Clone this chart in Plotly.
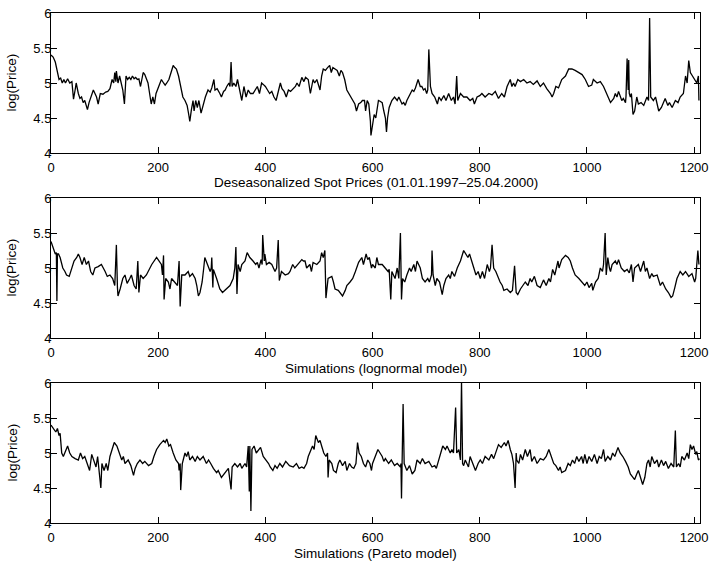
import plotly.graph_objects as go

# ---------------- data ----------------
x_tick_values = [0, 200, 400, 600, 800, 1000, 1200]
y_tick_values = [4, 4.5, 5, 5.5, 6]
y_tick_labels = ["4", "4.5", "5", "5.5", "6"]

panel_titles = [
    "Deseasonalized Spot Prices (01.01.1997\u201325.04.2000)",
    "Simulations (lognormal model)",
    "Simulations (Pareto model)",
]
y_title = "log(Price)"

spot_points = [
    (0, 5.40), (4, 5.37), (8, 5.30), (12, 5.15), (15, 5.05), (18, 5.07), (21, 5.00), (24, 5.05),
    (27, 5.00), (31, 5.06), (35, 5.00), (39, 5.02), (42, 4.77), (45, 4.90), (47, 5.00), (51, 4.85),
    (54, 4.78), (57, 4.80), (60, 4.72), (63, 4.75), (66, 4.68), (68, 4.62), (71, 4.72), (75, 4.80),
    (79, 4.90), (82, 4.85), (85, 4.80), (88, 4.70), (92, 4.85), (97, 4.84), (102, 4.87), (106, 4.88),
    (110, 4.92), (114, 5.05), (117, 5.00), (119, 5.15), (121, 5.02), (122, 5.17), (125, 5.00),
    (128, 5.10), (131, 4.98), (134, 4.90), (137, 4.70), (140, 5.10), (143, 5.05), (146, 5.08),
    (149, 5.05), (152, 5.10), (155, 5.06), (158, 5.08), (161, 5.05), (164, 5.06), (167, 4.95),
    (170, 5.10), (172, 5.15), (175, 5.12), (178, 5.05), (181, 5.00), (184, 4.85), (187, 4.70),
    (190, 4.80), (193, 4.70), (196, 4.85), (199, 4.92), (203, 5.00), (206, 5.05), (210, 5.00),
    (213, 4.97), (216, 5.00), (220, 5.05), (224, 5.15), (228, 5.25), (231, 5.22), (234, 5.20),
    (238, 5.10), (242, 4.92), (246, 4.80), (250, 4.75), (254, 4.68), (257, 4.55), (259, 4.45),
    (262, 4.62), (265, 4.75), (267, 4.60), (270, 4.75), (273, 4.65), (276, 4.75), (280, 4.57),
    (284, 4.70), (288, 4.80), (293, 4.90), (297, 4.87), (300, 4.93), (304, 5.05), (306, 4.90),
    (310, 4.92), (315, 4.85), (318, 4.80), (322, 4.88), (325, 4.90), (328, 4.95), (332, 5.00),
    (334, 4.95), (336, 5.30), (338, 4.95), (341, 5.00), (345, 4.95), (348, 5.05), (352, 4.90),
    (356, 4.75), (360, 4.95), (364, 4.80), (368, 4.90), (372, 4.85), (377, 4.85), (381, 4.90),
    (385, 4.95), (389, 4.85), (393, 5.00), (396, 4.98), (400, 4.95), (404, 4.90), (408, 4.85),
    (412, 4.88), (416, 4.80), (420, 4.75), (424, 4.90), (428, 5.00), (431, 4.92), (435, 4.88),
    (439, 4.80), (443, 4.90), (447, 4.88), (452, 4.92), (456, 4.95), (459, 5.00), (463, 4.95),
    (468, 5.08), (472, 5.02), (475, 5.08), (480, 5.05), (484, 4.85), (489, 5.05), (492, 5.00),
    (496, 5.05), (502, 4.90), (505, 5.10), (508, 5.20), (512, 5.18), (516, 5.22), (520, 5.25),
    (523, 5.15), (526, 5.22), (530, 5.20), (534, 5.18), (538, 5.10), (541, 5.18), (544, 5.15),
    (548, 5.05), (552, 4.90), (556, 4.85), (560, 4.80), (564, 4.75), (567, 4.70), (570, 4.60),
    (574, 4.70), (578, 4.72), (581, 4.75), (585, 4.75), (587, 4.60), (590, 4.75), (593, 4.70),
    (596, 4.45), (597, 4.25), (600, 4.40), (603, 4.55), (606, 4.50), (608, 4.60), (611, 4.75),
    (614, 4.74), (618, 4.72), (621, 4.60), (624, 4.50), (626, 4.30), (628, 4.50), (631, 4.65),
    (636, 4.75), (641, 4.80), (646, 4.75), (649, 4.80), (652, 4.74), (655, 4.70), (658, 4.72),
    (661, 4.68), (664, 4.75), (667, 4.80), (670, 4.85), (674, 4.90), (677, 4.88), (680, 4.93),
    (685, 5.05), (689, 4.95), (692, 4.95), (695, 4.90), (698, 4.92), (701, 4.85), (703, 4.90),
    (705, 5.48), (708, 4.95), (711, 4.85), (716, 4.80), (721, 4.70), (724, 4.80), (728, 4.75),
    (733, 4.82), (737, 4.75), (742, 4.85), (747, 4.75), (751, 4.80), (754, 4.70), (757, 5.10),
    (759, 4.75), (764, 4.85), (770, 4.80), (776, 4.80), (782, 4.75), (787, 4.78), (790, 4.70),
    (795, 4.80), (800, 4.82), (804, 4.85), (810, 4.80), (817, 4.85), (823, 4.83), (829, 4.88),
    (835, 4.78), (841, 4.85), (846, 4.80), (851, 4.95), (857, 5.05), (860, 4.95), (863, 5.00),
    (866, 4.95), (871, 5.05), (876, 5.02), (882, 5.05), (888, 5.00), (894, 5.02), (900, 4.98),
    (907, 5.03), (913, 4.95), (919, 5.00), (925, 4.92), (932, 4.85), (935, 4.80), (938, 4.85),
    (942, 4.95), (947, 4.93), (953, 5.05), (960, 5.10), (966, 5.20), (972, 5.20), (978, 5.18),
    (984, 5.15), (991, 5.12), (997, 5.05), (1003, 4.95), (1009, 4.97), (1012, 5.05), (1019, 5.00),
    (1025, 5.02), (1031, 4.95), (1037, 4.85), (1040, 4.80), (1044, 4.72), (1050, 4.78),
    (1053, 4.85), (1056, 4.80), (1059, 4.88), (1065, 4.75), (1068, 4.78), (1072, 4.72),
    (1073, 4.82), (1075, 5.35), (1077, 4.90), (1078, 5.33), (1079, 4.85), (1081, 4.80),
    (1083, 4.85), (1086, 4.55), (1089, 4.60), (1093, 4.80), (1096, 4.70), (1101, 4.72),
    (1106, 4.68), (1112, 4.80), (1115, 4.75), (1117, 5.93), (1119, 4.80), (1124, 4.75),
    (1128, 4.80), (1131, 4.70), (1134, 4.60), (1139, 4.65), (1143, 4.72), (1146, 4.78),
    (1151, 4.68), (1154, 4.72), (1159, 4.65), (1165, 4.75), (1170, 4.72), (1174, 4.80),
    (1180, 4.85), (1184, 5.10), (1187, 5.00), (1190, 5.32), (1193, 5.15), (1197, 5.10),
    (1202, 5.05), (1205, 5.00), (1208, 5.10), (1209, 4.75),
]

lognormal_points = [
    (0, 5.38), (4, 5.30), (8, 5.20), (10, 5.22), (11, 4.53), (12, 5.20), (14, 5.20), (17, 5.15),
    (22, 5.00), (26, 4.95), (29, 4.90), (34, 4.88), (39, 5.00), (43, 5.10), (48, 5.15), (51, 5.20),
    (54, 5.15), (58, 5.05), (62, 5.15), (66, 5.05), (70, 5.10), (74, 4.95), (78, 4.90), (82, 5.00),
    (88, 5.02), (94, 5.05), (101, 4.95), (105, 4.88), (110, 4.90), (115, 4.85), (119, 4.75),
    (122, 5.33), (124, 4.72), (125, 4.60), (129, 4.70), (134, 4.85), (138, 4.90), (142, 4.78),
    (147, 4.85), (150, 4.90), (155, 4.75), (159, 4.70), (162, 5.10), (164, 4.65), (167, 4.90),
    (172, 4.85), (178, 4.90), (188, 5.05), (197, 5.15), (202, 5.10), (206, 5.05), (208, 4.90),
    (210, 5.18), (211, 4.55), (214, 4.85), (219, 4.80), (222, 4.70), (225, 4.85), (231, 4.80),
    (236, 4.75), (239, 5.10), (241, 4.45), (244, 4.90), (250, 4.90), (256, 4.95), (259, 4.88),
    (264, 4.92), (269, 4.85), (272, 4.75), (275, 4.60), (278, 4.65), (282, 4.80), (285, 5.00),
    (287, 5.15), (292, 5.05), (297, 4.95), (299, 5.00), (300, 5.15), (302, 4.72), (303, 4.98),
    (309, 4.85), (315, 4.70), (320, 4.65), (328, 4.70), (334, 4.75), (340, 4.85), (343, 5.00),
    (345, 5.30), (347, 4.63), (349, 5.05), (353, 4.95), (356, 5.05), (362, 5.10), (366, 5.22),
    (371, 5.15), (377, 5.10), (382, 5.05), (385, 5.08), (388, 5.00), (392, 5.12), (394, 5.05),
    (395, 5.47), (398, 5.10), (399, 5.20), (402, 5.05), (407, 5.08), (412, 5.05), (415, 5.00),
    (418, 4.95), (421, 5.00), (424, 5.40), (426, 4.82), (430, 4.95), (437, 4.90), (443, 4.92),
    (446, 4.95), (451, 5.05), (455, 5.00), (461, 5.05), (468, 5.12), (471, 5.10), (474, 5.10),
    (477, 5.00), (483, 5.05), (486, 4.95), (489, 5.08), (496, 5.05), (502, 5.10), (505, 5.22),
    (508, 5.15), (511, 5.25), (513, 4.57), (517, 4.85), (524, 4.88), (527, 4.80), (530, 4.70),
    (536, 4.68), (539, 4.65), (544, 4.60), (549, 4.68), (552, 4.75), (558, 4.80), (563, 4.85),
    (568, 4.95), (574, 5.08), (580, 5.15), (583, 5.05), (588, 5.20), (591, 5.12), (594, 5.15),
    (598, 5.00), (600, 5.05), (605, 5.00), (608, 5.15), (611, 5.05), (618, 5.05), (624, 5.00),
    (629, 4.95), (631, 4.98), (634, 4.55), (636, 4.95), (639, 4.90), (642, 4.85), (646, 5.00),
    (649, 4.85), (652, 5.50), (654, 4.55), (656, 4.85), (660, 4.80), (664, 4.90), (669, 5.00),
    (672, 4.95), (677, 5.05), (680, 4.95), (683, 5.10), (689, 5.00), (693, 4.85), (698, 4.80),
    (703, 4.85), (706, 4.80), (710, 4.90), (711, 5.25), (713, 4.90), (717, 4.75), (720, 4.85),
    (725, 4.80), (730, 4.62), (733, 4.75), (737, 4.85), (742, 4.90), (745, 4.85), (748, 4.95),
    (753, 4.88), (758, 5.00), (764, 5.10), (770, 5.25), (774, 5.20), (778, 5.15), (781, 5.20),
    (786, 5.05), (789, 5.00), (793, 4.90), (797, 4.95), (801, 4.85), (805, 4.95), (809, 4.85),
    (814, 5.05), (818, 4.95), (820, 5.00), (823, 5.33), (826, 5.00), (830, 4.95), (835, 4.85),
    (838, 4.80), (842, 4.75), (845, 4.68), (851, 4.70), (857, 4.65), (861, 4.68), (865, 5.03),
    (868, 4.65), (871, 4.62), (876, 4.70), (880, 4.75), (885, 4.80), (890, 4.75), (894, 4.85),
    (897, 4.80), (902, 4.88), (907, 4.75), (913, 4.72), (919, 4.83), (924, 4.75), (929, 4.85),
    (932, 4.80), (936, 4.98), (940, 4.90), (946, 5.10), (948, 5.00), (953, 5.12), (960, 5.18),
    (965, 5.15), (969, 5.10), (973, 5.00), (978, 4.90), (985, 4.85), (991, 4.80), (996, 4.75),
    (1000, 4.80), (1004, 4.72), (1009, 4.78), (1011, 4.68), (1016, 4.80), (1021, 4.85),
    (1025, 5.00), (1029, 4.95), (1031, 5.05), (1034, 5.50), (1036, 4.90), (1039, 5.15),
    (1042, 5.00), (1044, 4.95), (1047, 5.05), (1053, 5.10), (1056, 5.05), (1059, 5.12),
    (1064, 5.00), (1070, 4.95), (1075, 4.98), (1079, 4.93), (1083, 5.05), (1086, 4.80),
    (1089, 5.00), (1096, 5.05), (1100, 4.95), (1106, 5.10), (1109, 4.95), (1112, 5.00),
    (1117, 4.85), (1121, 4.92), (1124, 4.88), (1131, 4.90), (1137, 4.75), (1141, 4.80),
    (1147, 4.70), (1152, 4.65), (1157, 4.58), (1160, 4.60), (1164, 4.72), (1168, 4.85),
    (1174, 4.95), (1179, 4.90), (1184, 4.95), (1190, 4.88), (1196, 4.92), (1201, 4.80),
    (1203, 4.85), (1207, 5.25), (1209, 5.05),
]

pareto_points = [
    (0, 5.40), (4, 5.35), (9, 5.30), (12, 5.35), (15, 5.25), (17, 5.28), (20, 5.00), (23, 4.95),
    (28, 5.05), (31, 5.10), (35, 5.00), (39, 4.95), (45, 4.92), (51, 4.90), (55, 5.00), (59, 4.92),
    (63, 4.95), (68, 4.85), (72, 4.75), (76, 4.98), (80, 4.90), (84, 4.80), (87, 4.95), (90, 4.70),
    (93, 4.50), (95, 4.85), (99, 4.75), (103, 4.85), (106, 4.75), (110, 4.95), (114, 5.05),
    (118, 5.15), (123, 5.10), (128, 5.00), (132, 4.90), (135, 4.95), (138, 4.85), (144, 4.90),
    (149, 4.82), (154, 4.68), (157, 4.78), (161, 4.85), (166, 4.90), (171, 4.85), (175, 4.88),
    (182, 4.82), (188, 4.85), (192, 4.95), (197, 5.05), (203, 5.12), (210, 5.18), (213, 5.15),
    (216, 5.20), (220, 5.10), (223, 5.12), (228, 5.00), (233, 4.90), (238, 4.85), (239, 4.75),
    (241, 4.85), (242, 4.47), (245, 4.85), (247, 4.90), (250, 5.00), (253, 4.95), (256, 5.02),
    (259, 4.90), (264, 4.95), (269, 4.88), (273, 4.95), (278, 4.90), (284, 4.95), (290, 4.85),
    (294, 4.90), (298, 4.85), (303, 4.78), (309, 4.72), (312, 4.75), (318, 4.65), (323, 4.70),
    (328, 4.75), (331, 4.78), (336, 4.48), (338, 4.80), (343, 4.85), (348, 4.80), (353, 4.85),
    (356, 4.78), (362, 4.85), (365, 4.80), (368, 5.10), (370, 4.45), (371, 5.10), (373, 4.17),
    (375, 5.05), (379, 5.10), (383, 5.00), (387, 5.05), (391, 5.08), (396, 4.95), (401, 4.90),
    (406, 4.85), (409, 4.80), (414, 4.75), (418, 4.82), (422, 4.78), (427, 4.85), (432, 4.80),
    (438, 4.88), (445, 4.82), (452, 4.80), (458, 4.85), (463, 4.78), (468, 4.80), (472, 4.78),
    (477, 4.85), (480, 4.95), (485, 5.05), (488, 5.10), (491, 5.05), (494, 5.25), (499, 5.15),
    (502, 5.18), (505, 5.10), (509, 5.00), (513, 4.95), (516, 5.00), (517, 4.65), (519, 4.90),
    (524, 4.85), (527, 4.75), (532, 4.72), (536, 4.85), (539, 4.90), (544, 4.82), (549, 4.88),
    (552, 4.75), (557, 4.85), (561, 4.80), (565, 4.78), (569, 4.85), (572, 5.15), (575, 5.00),
    (579, 4.95), (583, 4.85), (587, 4.80), (591, 4.90), (595, 4.85), (598, 4.75), (600, 4.85),
    (605, 4.95), (610, 5.05), (614, 5.00), (618, 4.95), (621, 4.88), (624, 4.92), (630, 4.85),
    (635, 4.90), (641, 4.82), (646, 4.85), (652, 4.80), (653, 4.85), (654, 4.35), (657, 5.70),
    (659, 4.85), (664, 4.75), (669, 4.82), (674, 4.70), (679, 4.75), (683, 4.90), (689, 4.85),
    (693, 4.92), (698, 4.85), (705, 4.88), (711, 4.80), (716, 4.82), (719, 4.78), (725, 4.95),
    (731, 5.10), (736, 5.05), (739, 5.10), (745, 5.00), (748, 5.05), (751, 5.00), (755, 5.65),
    (757, 5.00), (761, 5.05), (764, 4.90), (766, 6.02), (768, 4.85), (770, 4.82), (773, 4.90),
    (779, 4.80), (782, 4.95), (787, 4.85), (792, 4.75), (797, 4.85), (801, 4.90), (805, 4.85),
    (810, 4.95), (817, 4.90), (822, 4.98), (826, 4.92), (830, 5.00), (835, 5.12), (840, 5.08),
    (846, 5.15), (849, 5.10), (853, 5.18), (857, 5.05), (860, 4.98), (863, 4.85), (866, 4.50),
    (868, 5.00), (869, 4.90), (873, 4.85), (876, 4.98), (880, 4.90), (885, 5.05), (889, 4.95),
    (894, 5.05), (897, 4.88), (902, 4.95), (907, 4.85), (913, 4.92), (919, 4.90), (924, 4.95),
    (929, 5.05), (932, 4.98), (935, 4.90), (938, 4.85), (942, 4.82), (947, 4.75), (950, 4.80),
    (953, 4.72), (960, 4.75), (965, 4.85), (969, 4.82), (973, 4.90), (977, 4.85), (981, 4.95),
    (985, 4.88), (990, 4.95), (993, 4.85), (996, 4.98), (1000, 4.85), (1004, 4.95), (1009, 4.88),
    (1014, 4.98), (1019, 4.85), (1023, 4.95), (1027, 4.92), (1031, 5.05), (1034, 4.88),
    (1039, 4.95), (1044, 4.90), (1048, 5.00), (1052, 4.95), (1058, 5.08), (1062, 5.00),
    (1067, 4.95), (1072, 4.88), (1077, 4.80), (1081, 4.70), (1085, 4.65), (1089, 4.62),
    (1093, 4.70), (1096, 4.75), (1100, 4.65), (1104, 4.55), (1108, 4.65), (1112, 4.85),
    (1115, 4.90), (1118, 4.80), (1121, 4.95), (1126, 4.85), (1131, 4.90), (1134, 4.80),
    (1139, 4.90), (1143, 4.82), (1147, 4.88), (1152, 4.78), (1157, 4.85), (1162, 4.80),
    (1165, 5.32), (1167, 4.80), (1171, 4.85), (1174, 4.80), (1177, 4.95), (1182, 4.90),
    (1187, 5.00), (1190, 4.92), (1193, 5.12), (1196, 5.05), (1199, 5.10), (1203, 4.98),
    (1205, 5.02), (1208, 4.90), (1210, 4.92),
]

# ---------------- figure ----------------
W, H = 712, 565
FONT = "Liberation Sans, Arial, Helvetica, sans-serif"

plot_left, plot_right = 51, 700
panel_tops = [13, 198, 383]
panel_height = 140

series = [spot_points, lognormal_points, pareto_points]

fig = go.Figure()
layout = dict(
    width=W, height=H,
    margin=dict(l=0, r=0, t=0, b=0),
    paper_bgcolor="white", plot_bgcolor="white",
    showlegend=False,
    font=dict(family=FONT, size=12, color="black"),
    annotations=[],
)

for i, pts in enumerate(series):
    n = "" if i == 0 else str(i + 1)
    xs = [p[0] for p in pts]
    ys = [p[1] for p in pts]
    fig.add_trace(go.Scatter(
        x=xs, y=ys, mode="lines",
        line=dict(color="black", width=1.3),
        xaxis="x" + n, yaxis="y" + n,
        hoverinfo="skip",
    ))
    top = panel_tops[i]
    bottom = top + panel_height
    common = dict(
        showline=True, linecolor="black", linewidth=1, mirror="ticks",
        ticks="inside", ticklen=6, tickwidth=1, tickcolor="black",
        showgrid=False, zeroline=False, automargin=False,
        tickfont=dict(family=FONT, size=13, color="black"),
    )
    layout["xaxis" + n] = dict(
        domain=[plot_left / W, plot_right / W],
        range=[0, 1211], tickmode="array", tickvals=x_tick_values,
        anchor="y" + n, ticklabelstandoff=2, **common,
    )
    layout["yaxis" + n] = dict(
        domain=[1 - bottom / H, 1 - top / H],
        range=[4, 6], tickmode="array", tickvals=y_tick_values, ticktext=y_tick_labels,
        anchor="x" + n, ticklabelstandoff=-4, **common,
    )
    layout["annotations"].append(dict(
        text=panel_titles[i], xref="paper", yref="paper",
        x=(plot_left + plot_right) / 2 / W, y=1 - (bottom + 30) / H,
        xanchor="center", yanchor="middle", showarrow=False,
        font=dict(family=FONT, size=13.5, color="black"),
    ))
    layout["annotations"].append(dict(
        text=y_title, xref="paper", yref="paper",
        x=11.5 / W, y=1 - (top + bottom) / 2 / H, textangle=-90,
        xanchor="center", yanchor="middle", showarrow=False,
        font=dict(family=FONT, size=13.5, color="black"),
    ))

fig.update_layout(**layout)
fig.write_html(
    "out.html",
    config={"displayModeBar": False},
    post_script="document.body.style.margin='0';",
)
